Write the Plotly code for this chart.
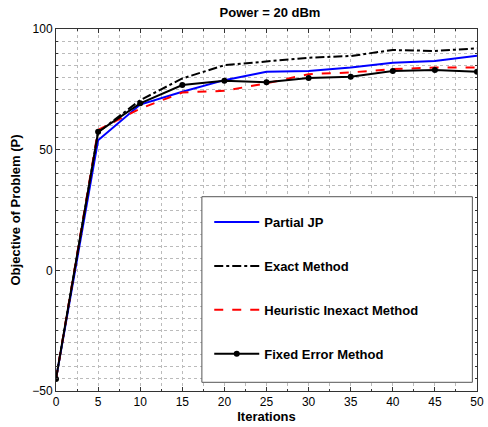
import plotly.graph_objects as go

iterations = [0, 5, 10, 15, 20, 25, 30, 35, 40, 45, 50]
partial_jp = [-45, 53.9, 68.7, 74.0, 78.8, 82.3, 82.6, 84.0, 86.0, 86.7, 88.9]
exact_method = [-45, 57.2, 70.5, 79.5, 85.0, 86.4, 88.1, 88.8, 91.3, 90.9, 92.0]
heuristic_inexact = [-45, 58.2, 67.0, 73.7, 74.4, 77.5, 81.3, 82.0, 83.4, 84.0, 84.0]
fixed_error = [-45, 57.4, 69.2, 76.8, 78.6, 77.9, 79.7, 80.2, 82.6, 83.0, 82.3]

x_ticks = list(range(0, 51, 5))
y_ticks = [-50, 0, 50, 100]

FONT = "Liberation Sans, Arial, Helvetica, sans-serif"
GRID = "#bbbbbb"

fig = go.Figure()
fig.add_trace(go.Scatter(x=iterations, y=partial_jp, mode="lines", name="<b>Partial JP</b>",
                         line=dict(color="#0000ff", width=2), legendgroup="a"))
fig.add_trace(go.Scatter(x=iterations, y=exact_method, mode="lines", name="<b>Exact Method</b>",
                         line=dict(color="#000000", width=2, dash="dashdot"), legendgroup="b"))
fig.add_trace(go.Scatter(x=iterations, y=heuristic_inexact, mode="lines", name="<b>Heuristic Inexact Method</b>",
                         line=dict(color="#ff0000", width=2, dash="dash"), legendgroup="c"))
fig.add_trace(go.Scatter(x=iterations, y=fixed_error, mode="lines+markers", name="<b>Fixed Error Method</b>",
                         line=dict(color="#000000", width=2), marker=dict(size=6, color="#000000"),
                         legendgroup="d"))

grid = dict(showgrid=True, gridcolor=GRID, griddash="dot", gridwidth=1)

# legend frame (paper coordinates of the plot area)
fig.add_shape(type="rect", xref="paper", yref="paper",
              x0=0.3465, x1=0.989, y0=0.024, y1=0.5367,
              line=dict(color="#555555", width=1), fillcolor="white", layer="above")

fig.update_layout(
    width=488, height=427,
    margin=dict(l=56, r=4, t=29, b=36),
    paper_bgcolor="white", plot_bgcolor="white",
    font=dict(family=FONT, size=12, color="#000000"),
    title=dict(text="<b>Power = 20 dBm</b>", x=(56 + 484) / 2 / 488, xanchor="center",
               y=1 - 12 / 427, yanchor="middle", font=dict(size=13)),
    showlegend=True,
    legend=dict(x=0.364, y=0.508, xanchor="left", yanchor="top",
                bgcolor="rgba(0,0,0,0)", borderwidth=0,
                font=dict(size=13), tracegroupgap=24, itemwidth=45),
)

fig.update_xaxes(
    range=[0, 50], tickvals=x_ticks, ticktext=[str(v) for v in x_ticks],
    ticks="inside", ticklen=4, tickcolor="#333333", ticklabeloverflow="allow",
    showline=True, linecolor="#333333", linewidth=1, mirror="ticks",
    zeroline=False, **grid,
    minor=dict(dtick=2.5, showgrid=True, gridcolor=GRID, griddash="dot",
               ticks="inside", ticklen=2, tickcolor="#333333"),
    title=dict(text="<b>Iterations</b>", font=dict(size=13), standoff=2),
)
fig.update_yaxes(
    range=[-50, 100], tickvals=y_ticks, ticktext=["\u221250", "0", "50", "100"],
    ticks="inside", ticklen=4, tickcolor="#333333",
    showline=True, linecolor="#333333", linewidth=1, mirror="ticks",
    zeroline=False, **grid,
    minor=dict(dtick=5, showgrid=True, gridcolor=GRID, griddash="dot",
               ticks="inside", ticklen=2, tickcolor="#333333"),
    title=dict(text="<b>Objective of Problem (P)</b>", font=dict(size=13), standoff=8),
)

fig.write_html("out.html")
